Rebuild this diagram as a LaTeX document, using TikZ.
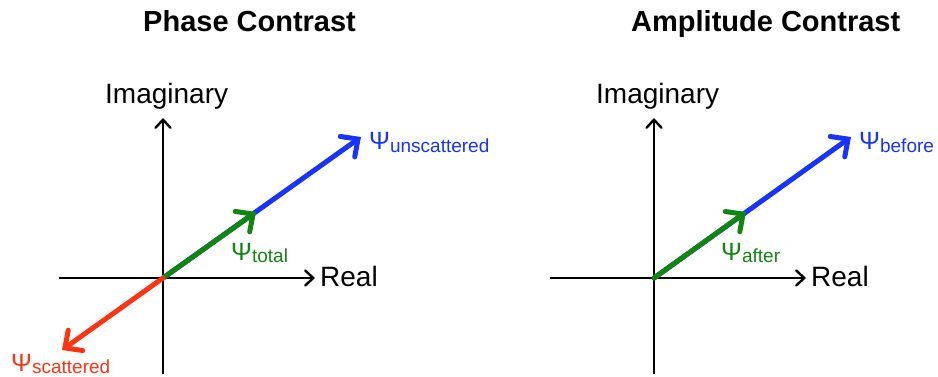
\documentclass[tikz,border=0pt]{standalone}
\usepackage{fontspec}
\setmainfont{Liberation Sans}
\usetikzlibrary{arrows.meta}
\definecolor{psiblue}{RGB}{24,52,252}
\definecolor{psigreen}{RGB}{18,132,18}
\definecolor{psired}{RGB}{252,52,22}
\tikzset{
  axis/.style={line width=2.4pt,-{Straight Barb[length=8pt,width=15pt,line cap=round]}},
  vec/.style={line width=5pt,line cap=round,-{Straight Barb[length=13pt,width=25pt,line cap=round]}},
  lbl/.style={inner sep=0pt,anchor=base west,font=\fontsize{28}{30}\selectfont},
  ttl/.style={inner sep=0pt,anchor=base west,font=\bfseries\fontsize{29}{31}\selectfont},
  psi/.style={inner sep=0pt,anchor=base west},
}
\newcommand{\psilabel}[1]{{\fontsize{25}{27}\selectfont Ψ}\raisebox{-2pt}{\fontsize{19}{21}\selectfont #1}}
\begin{document}
\begin{tikzpicture}[x=1pt,y=-1pt]
\useasboundingbox (0,0) rectangle (938,377);
% ---------- Left panel ----------
\node[ttl] (t1) at (143,32) {Phase Contrast};
\coordinate (O1) at (163,278);
\coordinate (yb1) at (163,374);
\coordinate (yt1) at (163,118);
\coordinate (xl1) at (59,278);
\coordinate (xr1) at (315,278);
\draw[axis] (yb1) -- (yt1);
\draw[axis] (xl1) -- (xr1);
\node[lbl] (im1) at (105,104) {Imaginary};
\node[lbl] (re1) at (320,286) {Real};
\coordinate (B1) at (361,137);
\coordinate (G1) at (256,212);
\coordinate (R1) at (62,350);
\draw[vec,psiblue] (O1) -- (B1);
\draw[vec,psigreen] (O1) -- (G1);
\draw[vec,psired] (O1) -- (R1);
\node[psi,psiblue] (pu) at (369,150) {\psilabel{unscattered}};
\node[psi,psigreen] (pt) at (231,260) {\psilabel{total}};
\node[psi,psired] (ps) at (11,371) {\psilabel{scattered}};
% ---------- Right panel ----------
\node[ttl] (t2) at (631,32) {Amplitude Contrast};
\coordinate (O2) at (654,278);
\coordinate (yb2) at (654,374);
\coordinate (yt2) at (654,118);
\coordinate (xl2) at (550,278);
\coordinate (xr2) at (806,278);
\draw[axis] (yb2) -- (yt2);
\draw[axis] (xl2) -- (xr2);
\node[lbl] (im2) at (596,104) {Imaginary};
\node[lbl] (re2) at (811,286) {Real};
\coordinate (B2) at (851,137);
\coordinate (G2) at (746,212);
\draw[vec,psiblue] (O2) -- (B2);
\draw[vec,psigreen] (O2) -- (G2);
\node[psi,psiblue] (pb) at (859,150) {\psilabel{before}};
\node[psi,psigreen] (pa) at (721,260) {\psilabel{after}};
\end{tikzpicture}
\end{document}
